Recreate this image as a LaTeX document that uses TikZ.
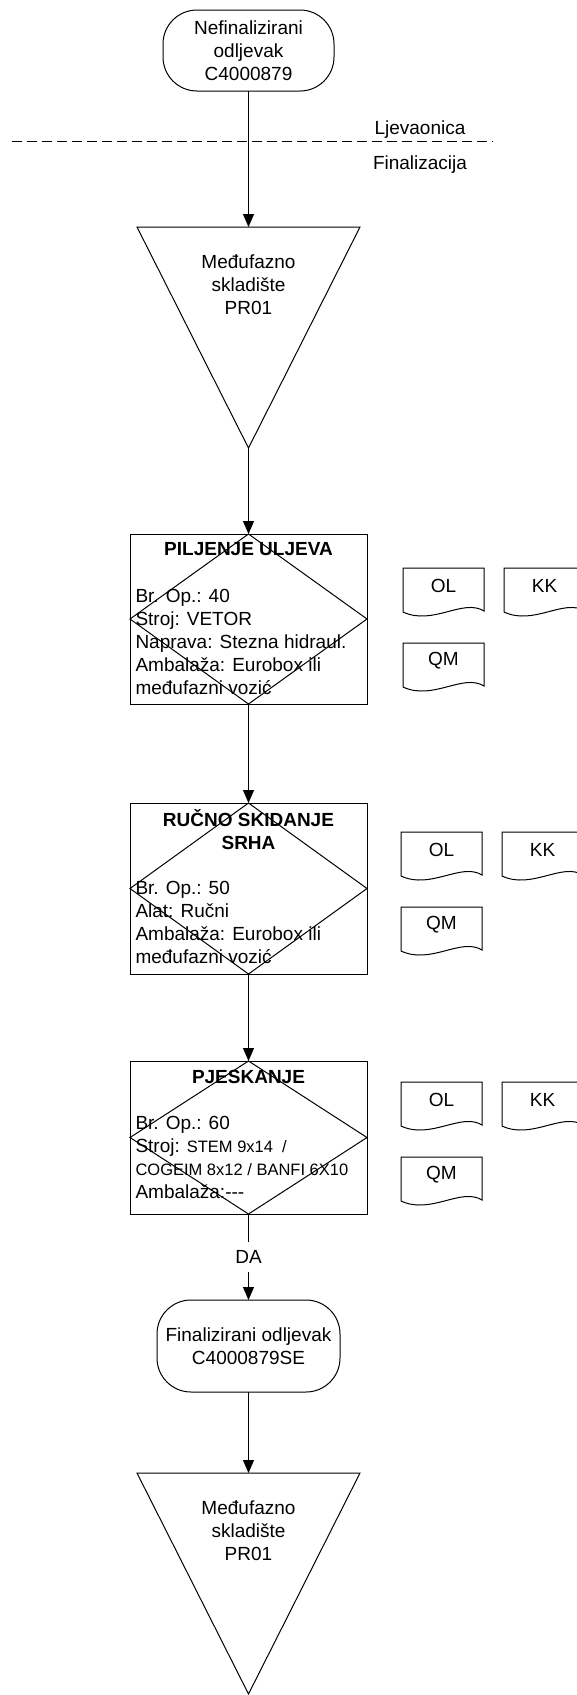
\documentclass[tikz,border=0pt]{standalone}
\usepackage{fontspec}
\setmainfont{Liberation Sans}
\usetikzlibrary{positioning,arrows.meta}
\newcommand{\smallfnt}{\fontsize{16.5}{23}\selectfont}

\begin{document}
\begin{tikzpicture}[
    x=1pt, y=1pt, line width=1pt,
    font=\fontsize{19}{23}\selectfont,
    terminal/.style={rectangle, draw, rounded corners=34pt, align=center, inner sep=2pt, outer sep=0pt},
    store/.style={rectangle, minimum width=223pt, minimum height=221pt, inner sep=0pt, outer sep=0pt},
    process/.style={rectangle, draw, minimum width=237pt, inner sep=0pt, outer sep=0pt},
    optitle/.style={font=\fontsize{19}{23}\selectfont\bfseries, align=center, inner sep=0pt, anchor=north},
    opbody/.style={align=left, inner sep=0pt, anchor=north west},
    doc/.style={rectangle, minimum width=81pt, minimum height=36pt, inner sep=0pt, outer sep=0pt},
    arrow/.style={->, >={Triangle[length=13pt,width=11pt]}}
]
    \useasboundingbox (0,0) rectangle (577,-1695);

    \node[terminal, minimum width=171pt, minimum height=81pt] (start) at (248.5,-50.5) {Nefinalizirani\\odljevak\\C4000879};
    \node[store, below=136pt of start] (pr1) {};
    \node[process, minimum height=170pt, below=86pt of pr1] (op40) {};
    \node[process, minimum height=171pt, below=99pt of op40] (op50) {};
    \node[process, minimum height=153pt, below=87pt of op50] (op60) {};
    \node[terminal, minimum width=183pt, minimum height=92pt, below=86pt of op60] (fin) {Finalizirani odljevak\\C4000879SE};
    \node[store, below=81pt of fin] (pr2) {};

    \coordinate (sepL) at (12,-141);
    \coordinate (sepR) at (493,-141);
    \draw[dash pattern=on 10pt off 5pt] (sepL) -- (sepR);
    \node[anchor=base] (ljev) at (420,-134) {Ljevaonica};
    \node[anchor=base] (fina) at (420,-169) {Finalizacija};

    \node[anchor=north, align=center, inner sep=0pt] (pr1txt) at ([yshift=-27pt]pr1.north) {Međufazno\\skladište\\PR01};
    \node[anchor=north, align=center, inner sep=0pt] (pr2txt) at ([yshift=-27pt]pr2.north) {Međufazno\\skladište\\PR01};
    \foreach \t in {pr1,pr2}
        \draw (\t.north west) -- (\t.north east) -- (\t.south) -- cycle;

    \node[optitle] (op40t) at ([yshift=-8pt]op40.north) {PILJENJE ULJEVA};
    \node[opbody] (op40b) at ([xshift=5pt,yshift=-55pt]op40.north west) {Br. Op.: 40\\Stroj: VETOR\\Naprava: Stezna hidraul.\\Ambalaža: Eurobox ili\\međufazni vozić};
    \node[optitle] (op50t) at ([yshift=-5.5pt]op50.north) {RUČNO SKIDANJE\\SRHA};
    \node[opbody] (op50b) at ([xshift=5pt,yshift=-78pt]op50.north west) {Br. Op.: 50\\Alat: Ručni\\Ambalaža: Eurobox ili\\međufazni vozić};
    \node[optitle] (op60t) at ([yshift=-9pt]op60.north) {PJESKANJE};
    \node[opbody] (op60b) at ([xshift=5pt,yshift=-55pt]op60.north west) {Br. Op.: 60\\Stroj: {\smallfnt STEM 9x14~~/}\\{\smallfnt COGEIM 8x12 / BANFI 6X10}\\Ambalaža:-{}-{}-};
    \foreach \op in {op40,op50,op60}
        \draw (\op.north) -- (\op.east) -- (\op.south) -- (\op.west) -- cycle;

    \node[doc, below right=34pt and 36pt of op40.north east] (ol1) {OL};
    \node[doc, right=20pt of ol1] (kk1) {KK};
    \node[doc, below=39pt of ol1] (qm1) {QM};
    \node[doc, below right=29pt and 34pt of op50.north east] (ol2) {OL};
    \node[doc, right=20pt of ol2] (kk2) {KK};
    \node[doc, below=39pt of ol2] (qm2) {QM};
    \node[doc, below right=21pt and 34pt of op60.north east] (ol3) {OL};
    \node[doc, right=20pt of ol3] (kk3) {KK};
    \node[doc, below=39pt of ol3] (qm3) {QM};
    \foreach \d in {ol1,kk1,qm1,ol2,kk2,qm2,ol3,kk3,qm3}
        \draw (\d.north west) -- (\d.north east) -- ([yshift=-7pt]\d.south east)
            .. controls +(-21,13) and +(30,-14) .. ([yshift=-8pt]\d.south west) -- cycle;

    \draw[arrow] (start) -- (pr1);
    \draw[arrow] (pr1.south) -- (op40);
    \draw[arrow] (op40) -- (op50);
    \draw[arrow] (op50) -- (op60);
    \draw[arrow] (op60) -- node[fill=white, inner xsep=2pt, inner ysep=8pt] (da) {DA} (fin);
    \draw[arrow] (fin) -- (pr2);
\end{tikzpicture}
\end{document}
